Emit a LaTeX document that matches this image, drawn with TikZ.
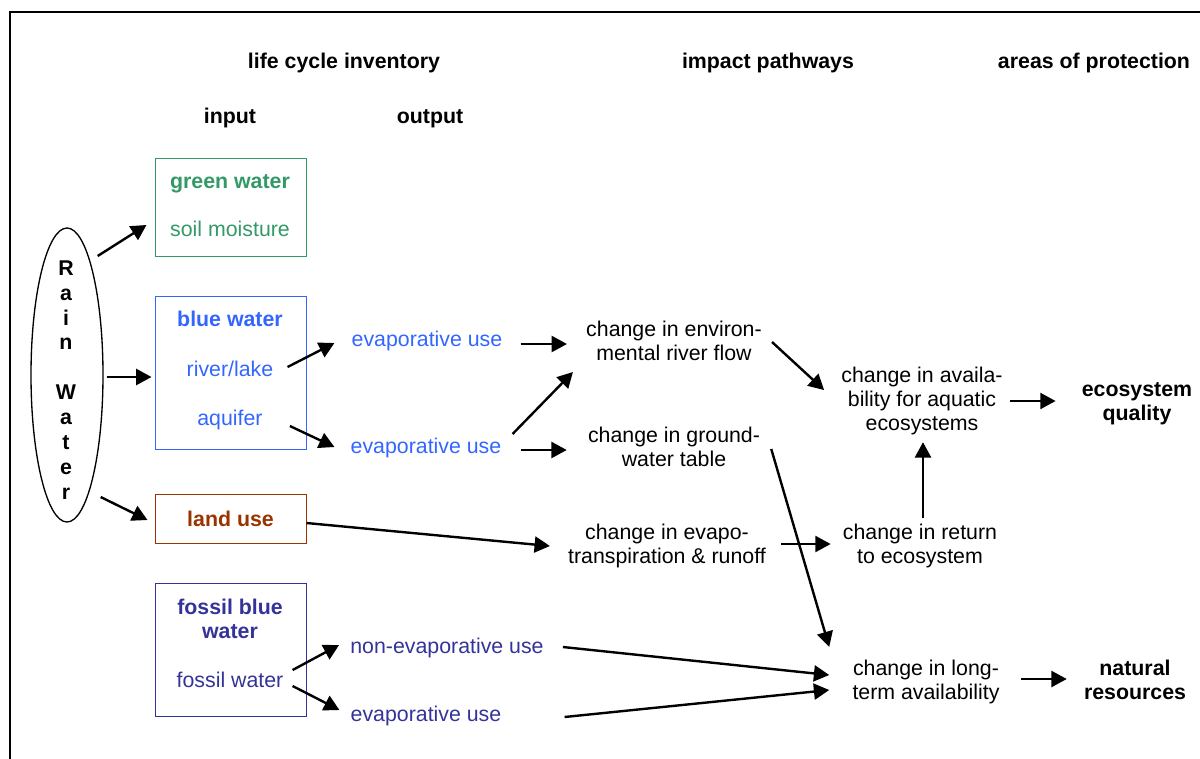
\documentclass[tikz,border=0pt]{standalone}
\usepackage{fontspec}
\setmainfont{Liberation Sans}
\usetikzlibrary{arrows.meta,shapes.geometric,calc}
\definecolor{greenwater}{RGB}{51,153,102}
\definecolor{bluewater}{RGB}{51,102,255}
\definecolor{landuse}{RGB}{153,51,0}
\definecolor{fossilwater}{RGB}{51,51,153}

\begin{document}
\begin{tikzpicture}[x=0.75pt,y=-0.75pt,
		font=\fontsize{16}{18}\selectfont,
		txt/.style={inner sep=0pt,text height=14pt,text depth=3pt},
		mtxt/.style={inner sep=0pt,align=center},
		head/.style={txt,font=\fontsize{16}{18}\selectfont\bfseries},
		mhead/.style={mtxt,font=\fontsize{16}{18}\selectfont\bfseries},
		box/.style={draw,line width=0.75pt,minimum width=113.25pt,inner sep=0pt},
		arr/.style={-{Triangle[length=11.5pt,width=12pt]},line width=1.8pt}]
			\useasboundingbox (0,0) rectangle (1200,758);
			\clip (0,0) rectangle (1200,758);
			\draw[line width=1.5pt] (10,770) -- (10,12) -- (1210,12);
			\node[head] (lci) at (344,61) {life cycle inventory};
			\node[head] (ip) at (768,61) {impact pathways};
			\node[head] (aop) at (1094,61) {areas of protection};
			\node[head] (inp) at (230,116) {input};
			\node[head] (outp) at (430,116) {output};
			\node[draw,ellipse,line width=1pt,minimum width=54pt,minimum height=220.5pt,inner sep=0pt] (rain) at (67,375) {};
			\node[mhead,font=\fontsize{16}{18.7}\selectfont\bfseries] (rainlbl) at (66,380) {R\\a\\i\\n\\[18.7pt]W\\a\\t\\e\\r};
			\node[box,draw=greenwater,minimum height=73.5pt] (green) at (230.5,207) {};
			\node[head,text=greenwater] (greenhd) at (230,181) {green water};
			\node[txt,text=greenwater] (soil) at (230,229) {soil moisture};
			\node[box,draw=bluewater,minimum height=114.75pt] (blue) at (230.5,372.5) {};
			\node[head,text=bluewater] (bluehd) at (230,319) {blue water};
			\node[txt,text=bluewater] (river) at (230,369) {river/lake};
			\node[txt,text=bluewater] (aquifer) at (230,418) {aquifer};
			\node[box,draw=landuse,minimum height=36.75pt,text=landuse,font=\fontsize{16}{18}\selectfont\bfseries] (land) at (230.5,519) {land use};
			\node[box,draw=fossilwater,minimum height=99.75pt] (fossil) at (230.5,649.5) {};
			\node[mhead,text=fossilwater] (fossilhd) at (230,619) {fossil blue\\water};
			\node[txt,text=fossilwater] (fw) at (230,680) {fossil water};
			\node[txt,text=bluewater] (ev1) at (427,339) {evaporative use};
			\node[txt,text=bluewater] (ev2) at (426,446) {evaporative use};
			\node[txt,text=fossilwater] (nev) at (447,646) {non-evaporative use};
			\node[txt,text=fossilwater] (fev) at (426,714) {evaporative use};
			\node[mtxt] (env) at (674,341) {change in environ-\\mental river flow};
			\node[mtxt] (gw) at (674,447) {change in ground-\\water table};
			\node[mtxt] (evt) at (667,546) {change in evapo-\\transpiration \& runoff};
			\node[mtxt] (avail) at (922,401) {change in availa-\\bility for aquatic\\ecosystems};
			\node[mtxt] (ret) at (920,546) {change in return\\to ecosystem};
			\node[mtxt] (lt) at (926,682) {change in long-\\term availability};
			\node[mhead] (eq) at (1137,404) {ecosystem\\quality};
			\node[mhead] (nr) at (1135,680) {natural\\resources};
			\draw[arr] ($(rain.east)+(-6,-119)$) -- ($(green.west)+(-8,18)$);
			\draw[arr] ($(rain.east)+(3,2)$) -- ($(blue.west)+(-3,4.5)$);
			\draw[arr] ($(rain.east)+(-3,122)$) -- ($(land.west)+(-7,1)$);
			\draw[arr] ($(river.east)+(14,-2)$) -- ($(ev1.west)+(-17,4)$);
			\draw[arr] ($(aquifer.east)+(27,8)$) -- ($(ev2.west)+(-16,1)$);
			\draw[arr] ($(ev1.east)+(18,5)$) -- ($(env.west)+(-19,3)$);
			\draw[arr] ($(ev2.east)+(11,-12)$) -- ($(env.west)+(-13,31)$);
			\draw[arr] ($(ev2.east)+(19,4)$) -- ($(gw.west)+(-21,3)$);
			\draw[arr] ($(land.east)+(0,4)$) -- ($(evt.west)+(-18,0)$);
			\draw[arr] ($(env.east)+(10,1)$) -- ($(avail.west)+(-17,-11)$);
			\draw[arr] ($(gw.east)+(11,2)$) -- ($(lt.west)+(-23,-35)$);
			\draw[arr] ($(evt.east)+(15,-2)$) -- ($(ret.west)+(-12,-2)$);
			\draw[arr] ($(ret.north)+(3,-6)$) -- ($(avail.south)+(1,7)$);
			\draw[arr] ($(avail.east)+(7,0)$) -- ($(eq.west)+(-26,-3)$);
			\draw[arr] ($(fw.east)+(9,-10)$) -- ($(nev.west)+(-11,-1)$);
			\draw[arr] ($(fw.east)+(9,6)$) -- ($(fev.west)+(-11,-4)$);
			\draw[arr] ($(nev.east)+(19,1)$) -- ($(lt.west)+(-23,-7)$);
			\draw[arr] ($(fev.east)+(63,3)$) -- ($(lt.west)+(-23,8)$);
			\draw[arr] ($(lt.east)+(21,-3)$) -- ($(nr.west)+(-17,-1)$);
		\end{tikzpicture}
\end{document}
